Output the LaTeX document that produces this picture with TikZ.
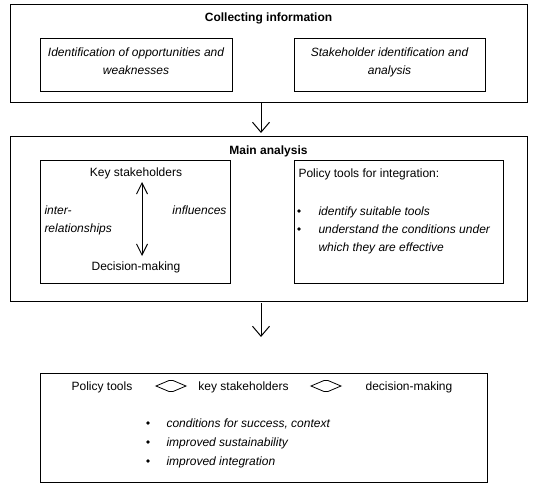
\documentclass[tikz,border=0pt]{standalone}
\usepackage{fontspec}
\setmainfont{Liberation Sans}
\usetikzlibrary{arrows.meta,calc}
\begin{document}
\begin{tikzpicture}[x=1pt,y=-1pt,line width=1pt,
  frame/.style={draw,anchor=north west,inner sep=0pt,outer sep=0pt},
  txt/.style={font=\fontsize{12}{18}\selectfont,inner sep=0pt},
  ttl/.style={txt,font=\fontsize{12}{18}\selectfont\bfseries},
  itx/.style={txt,font=\fontsize{12}{18}\selectfont\itshape},
  bul/.style={circle,fill,inner sep=0pt,minimum size=3.6pt},
  downarrow/.style={-{Straight Barb[length=10pt,width=17pt]}},
  vdbl/.style={{Straight Barb[length=11pt,width=11pt]}-{Straight Barb[length=11pt,width=11pt]}},
  dmd/.style={draw,line width=0.8pt}]
\useasboundingbox[fill=white] (0,0) rectangle (537,497);

% frames
\node[frame,minimum width=517pt,minimum height=98pt] (collect) at (10,5) {};
\node[frame,minimum width=192pt,minimum height=53pt] (opp) at (40,39) {};
\node[frame,minimum width=191pt,minimum height=53pt] (stk) at (294,39) {};
\node[frame,minimum width=517pt,minimum height=164pt] (main) at (10,137) {};
\node[frame,minimum width=190pt,minimum height=123pt] (rel) at (40,160) {};
\node[frame,minimum width=209pt,minimum height=123pt] (pol) at (294,160) {};
\node[frame,minimum width=447pt,minimum height=109pt] (res) at (40,373) {};

% top
\node[ttl,anchor=base] (t1) at (268.5,21.5) {Collecting information};
\node[itx,anchor=base,align=center] (opptxt) at (136,74.5) {Identification of opportunities and\\weaknesses};
\node[itx,anchor=base,align=center] (stktxt) at (389.5,74.5) {Stakeholder identification and\\analysis};

% arrows between levels
\coordinate (a1s) at (261,103);
\coordinate (a1e) at (261,133);
\draw[downarrow] (a1s) -- (a1e);
\coordinate (a2s) at (261,303);
\coordinate (a2e) at (261,337);
\draw[downarrow] (a2s) -- (a2e);

% main analysis
\node[ttl,anchor=base] (t2) at (268.5,154.5) {Main analysis};
\node[txt,anchor=base] (ks) at (136,176.5) {Key stakeholders};
\node[txt,anchor=base] (dm) at (136,270.5) {Decision-making};
\node[itx,anchor=base west,align=left] (inter) at (44,232.5) {inter-\\relationships};
\node[itx,anchor=base east] (infl) at (227,214.5) {influences};
\coordinate (v1) at (142,182);
\coordinate (v2) at (142,256);
\draw[vdbl] (v1) -- (v2);

\node[txt,anchor=base west] (ptitle) at (298,177.5) {Policy tools for integration:};
\node[bul] (b1) at (299,211) {};
\node[itx,anchor=base west] (p1) at (318,215.5) {identify suitable tools};
\node[bul] (b2) at (299,229) {};
\node[itx,anchor=base west,align=left] (p2) at (318,251.5) {understand the conditions under\\which they are effective};

% result
\node[txt,anchor=base] (rpt) at (102,390.5) {Policy tools};
\node[txt,anchor=base] (rks) at (243.5,390.5) {key stakeholders};
\node[txt,anchor=base] (rdm) at (409,390.5) {decision-making};
\coordinate (d1) at (171,386);
\coordinate (d2) at (326,386);
\foreach \d in {d1,d2}{
  \draw[dmd] ($(\d)+(-15,0)$) -- ++(13,-5.5) -- ++(4,0) -- ++(13,5.5) -- ++(-13,5.5) -- ++(-4,0) -- cycle;
}
\node[bul] (c1) at (148,423) {};
\node[itx,anchor=base west] (r1) at (166,427.5) {conditions for success, context};
\node[bul] (c2) at (148,442) {};
\node[itx,anchor=base west] (r2) at (166,446.5) {improved sustainability};
\node[bul] (c3) at (148,461) {};
\node[itx,anchor=base west] (r3) at (166,465.5) {improved integration};
\end{tikzpicture}
\end{document}
